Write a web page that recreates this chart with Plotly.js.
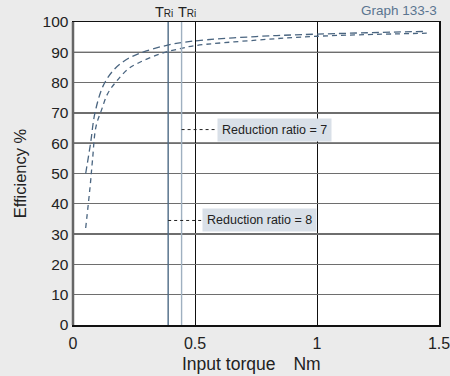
<!DOCTYPE html>
<html><head><meta charset="utf-8">
<script src="https://cdn.plot.ly/plotly-3.0.1.min.js"></script>
<style>html,body{margin:0;padding:0;background:#ebebeb;}#chart{width:450px;height:376px;}</style>
</head><body><div id="chart"></div>
<script>
// Data
const torque7 = [0.052, 0.072, 0.09, 0.124, 0.165, 0.213, 0.275, 0.384, 0.493, 0.75, 1.0, 1.45];
const eff7    = [50, 60, 70, 79, 84, 87.3, 89.7, 92.3, 93.7, 95.2, 96.0, 96.9];
const torque8 = [0.052, 0.07, 0.08, 0.094, 0.117, 0.143, 0.179, 0.226, 0.266, 0.357, 0.439, 0.5, 0.75, 1.0, 1.45];
const eff8    = [32, 45.6, 54.5, 65.4, 71, 76.5, 80.5, 84.5, 86.4, 89.5, 91.2, 92.2, 94.0, 95.3, 96.3];
const triValues = [0.39, 0.445];
const triLabels = ['T<span style="font-size:10px">Ri</span>', 'T<span style="font-size:10px">Ri</span>'];
const xTicks = [0, 0.5, 1, 1.5];
const xTickText = ['0', '0.5', '1', '1.5'];
const yTicks = [0, 10, 20, 30, 40, 50, 60, 70, 80, 90, 100];
const ratioLabels = ['Reduction ratio = 7', 'Reduction ratio = 8'];
const ratioLabelY = [64.5, 34.5];
const xTitle = 'Input torque\u3000Nm';
const yTitle = 'Efficiency %';

const lineColor = '#4a6580';
const traces = [
  {x: torque7, y: eff7, mode: 'lines', line: {color: lineColor, width: 1.3, dash: '7px,4px', shape: 'spline'}, hoverinfo: 'skip'},
  {x: torque8, y: eff8, mode: 'lines', line: {color: lineColor, width: 1.3, dash: '5px,4px', shape: 'spline'}, hoverinfo: 'skip'}
];

const shapes = [];
// darker y grid lines at 30, 60, 90
[30, 60, 90].forEach(v => shapes.push({type: 'line', xref: 'paper', x0: 0, x1: 1, yref: 'y', y0: v, y1: v, line: {color: '#111', width: 1.2}, layer: 'below'}));
// TRi vertical lines
const triColors = ['#4d6a85', '#9fb0c0'];
triValues.forEach((v, i) => shapes.push({type: 'line', xref: 'x', x0: v, x1: v, yref: 'paper', y0: 0, y1: 1, line: {color: triColors[i], width: 1.4}}));
// dotted leaders from TRi lines to label boxes
shapes.push({type: 'line', xref: 'x', x0: triValues[1], x1: 0.59, yref: 'y', y0: ratioLabelY[0], y1: ratioLabelY[0], line: {color: '#222', width: 1, dash: 'dot'}});
shapes.push({type: 'line', xref: 'x', x0: triValues[0], x1: 0.527, yref: 'y', y0: ratioLabelY[1], y1: ratioLabelY[1], line: {color: '#222', width: 1, dash: 'dot'}});
// left axis thicker grey
shapes.push({type: 'line', xref: 'paper', x0: 0, x1: 0, yref: 'paper', y0: 0, y1: 1, line: {color: '#666', width: 2.5}});

const font = 'Liberation Sans, Arial, sans-serif';
const annotations = [
  {text: ratioLabels[0], x: 0.59, y: ratioLabelY[0], xref: 'x', yref: 'y', xanchor: 'left', yanchor: 'middle', showarrow: false,
   bgcolor: '#d9e0e8', borderpad: 4, font: {family: font, size: 12.5, color: '#222'}},
  {text: ratioLabels[1], x: 0.527, y: ratioLabelY[1], xref: 'x', yref: 'y', xanchor: 'left', yanchor: 'middle', showarrow: false,
   bgcolor: '#d9e0e8', borderpad: 4, font: {family: font, size: 12.5, color: '#222'}},
  {text: 'Graph 133-3', xref: 'paper', yref: 'paper', x: 1, y: 1, xanchor: 'right', yanchor: 'bottom', yshift: 2, showarrow: false,
   font: {family: font, size: 13.5, color: '#5a7590'}},
  {text: xTitle, xref: 'paper', yref: 'paper', x: 0.292, y: -0.129, xanchor: 'left', yanchor: 'middle', showarrow: false,
   font: {family: font, size: 17.5, color: '#222'}}
];
triValues.forEach((v, i) => annotations.push({text: triLabels[i], x: v, xref: 'x', y: 1, yref: 'paper', yanchor: 'bottom', xanchor: 'center',
  xshift: i === 0 ? -4 : 5, yshift: 0, showarrow: false, font: {family: font, size: 14.5, color: '#222'}}));

const layout = {
  width: 450, height: 376,
  margin: {l: 73, r: 11, t: 22, b: 51},
  paper_bgcolor: '#ebebeb', plot_bgcolor: '#ffffff',
  showlegend: false,
  font: {family: font, color: '#222'},
  xaxis: {range: [0, 1.5], tickvals: xTicks, ticktext: xTickText, showgrid: true, gridcolor: '#111', gridwidth: 1,
          zeroline: false, showline: true, linecolor: '#111', linewidth: 1.5, mirror: true, ticks: '',
          tickfont: {size: 16, color: '#222'}, ticklabelstandoff: 3, ticklabeloverflow: 'allow', automargin: false},
  yaxis: {range: [0, 100], tickvals: yTicks, showgrid: true, gridcolor: '#6e6e6e', gridwidth: 1.3,
          zeroline: false, showline: true, linecolor: '#111', linewidth: 1.5, mirror: true, ticks: '',
          tickfont: {size: 15.5, color: '#222'}, ticklabelstandoff: 0, automargin: false,
          title: {text: yTitle, font: {size: 16.5, color: '#222'}, standoff: 12}},
  shapes: shapes,
  annotations: annotations
};
Plotly.newPlot('chart', traces, layout, {staticPlot: true, displayModeBar: false});
</script></body></html>
